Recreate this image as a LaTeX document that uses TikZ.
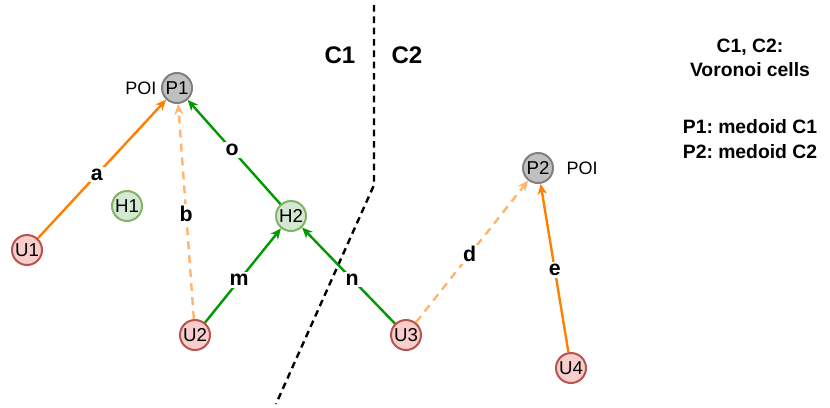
\documentclass[tikz,border=0pt]{standalone}
\usepackage{fontspec}
\setmainfont{Liberation Sans}
\usetikzlibrary{arrows.meta}
\frenchspacing
\definecolor{userfill}{HTML}{F8CECC}
\definecolor{userdraw}{HTML}{B85450}
\definecolor{hubfill}{HTML}{D5E8D4}
\definecolor{hubdraw}{HTML}{82B366}
\definecolor{poifill}{HTML}{C0C0C0}
\definecolor{poidraw}{HTML}{808080}
\definecolor{solidorange}{HTML}{FF8000}
\definecolor{paleorange}{HTML}{FFB570}
\definecolor{routegreen}{HTML}{009900}
\tikzset{
  px/.style={x=0.75pt,y=-0.75pt},
  site/.style={circle,minimum size=22.5pt,inner sep=0pt,line width=1.5pt,font=\fontsize{14}{15}\selectfont},
  user/.style={site,fill=userfill,draw=userdraw},
  hub/.style={site,fill=hubfill,draw=hubdraw},
  poi/.style={site,fill=poifill,draw=poidraw},
  tip/.style={-{Stealth[length=8pt,width=7pt,inset=2.5pt]}},
  direct/.style={tip,line width=1.8pt,draw=solidorange},
  detour/.style={tip,line width=1.8pt,draw=paleorange,dash pattern=on 6pt off 4.5pt},
  viahub/.style={tip,line width=1.8pt,draw=routegreen},
  elabel/.style={fill=white,inner sep=1.5pt,font=\fontsize{16}{17}\selectfont\bfseries},
  border/.style={line width=1.8pt,draw=black,dash pattern=on 5pt off 3.5pt},
  cell/.style={font=\fontsize{18}{19}\selectfont\bfseries},
  legend/.style={font=\fontsize{14.5}{18.5}\selectfont\bfseries,align=center},
  poitag/.style={font=\fontsize{13.5}{14}\selectfont}
}
\begin{document}
\begin{tikzpicture}[px]
\useasboundingbox (0,0) rectangle (830,407);

% cell boundary between C1 and C2
\coordinate (bTop) at (374,5);
\coordinate (bBend) at (374,185);
\coordinate (bEnd) at (276,404);
\draw[border] (bTop) -- (bBend) -- (bEnd);
\node[cell] (c1) at (340,55) {C1};
\node[cell] (c2) at (407,55) {C2};

% sites
\node[poi] (P1) at (177,88) {P1};
\node[poi] (P2) at (538,168) {P2};
\node[hub] (H1) at (127,206) {H1};
\node[hub] (H2) at (291,216) {H2};
\node[user] (U1) at (27,250) {U1};
\node[user] (U2) at (195,335) {U2};
\node[user] (U3) at (406,335) {U3};
\node[user] (U4) at (571,368) {U4};

\node[poitag,anchor=east] (t1) at ([xshift=0pt]P1.west) {POI};
\node[poitag,anchor=west] (t2) at ([xshift=6pt]P2.east) {POI};

% routes
\draw[direct] (U1) -- node[elabel,pos=0.46] {a} (P1);
\draw[detour] (U2) -- node[elabel,pos=0.49] {b} (P1);
\draw[viahub] (H2) -- node[elabel,pos=0.52] {o} (P1);
\draw[viahub] (U2) -- node[elabel,pos=0.45] {m} (H2);
\draw[viahub] (U3) -- node[elabel,pos=0.46] {n} (H2);
\draw[detour] (U3) -- node[elabel,pos=0.48] {d} (P2);
\draw[direct] (U4) -- node[elabel,pos=0.49] {e} (P2);

% legend
\node[legend] (lg1) at (750,58) {C1, C2:\\Voronoi cells};
\node[legend] (lg2) at (750,139) {P1: medoid C1\\P2: medoid C2};
\end{tikzpicture}
\end{document}
